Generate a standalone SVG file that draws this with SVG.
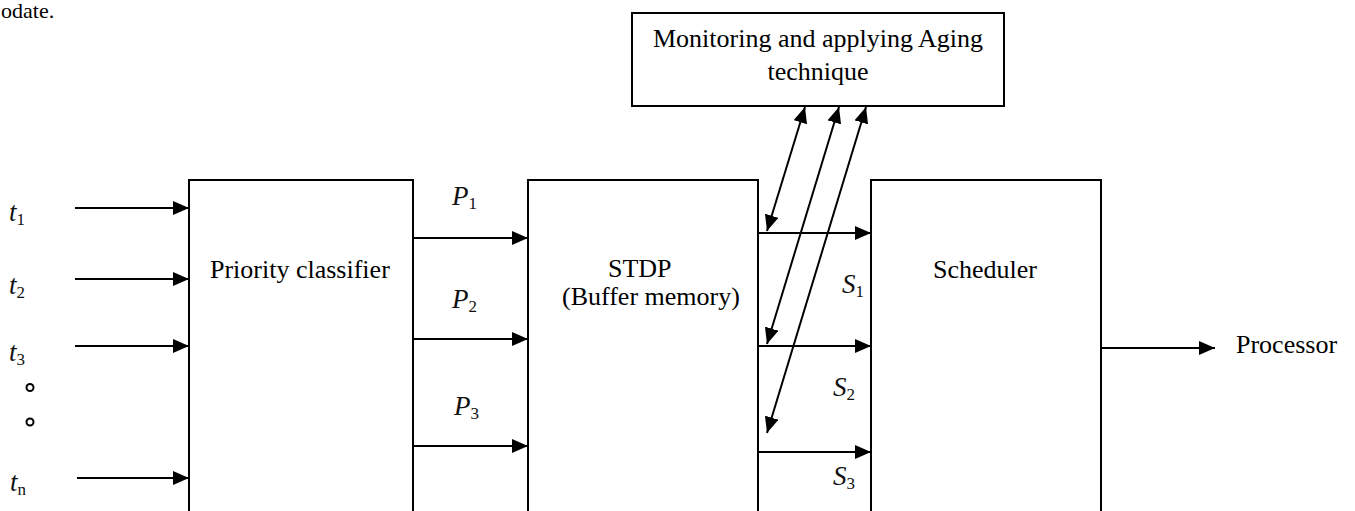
<svg xmlns="http://www.w3.org/2000/svg" width="1355" height="511" viewBox="0 0 1355 511">
<style>
.box{fill:#fff;stroke:#000;stroke-width:2}
.ln{stroke:#000;stroke-width:2;fill:none}
.tx{font-family:"Liberation Serif","Times New Roman",serif;font-size:26px;fill:#000}
.mt{font-family:"Liberation Serif","Times New Roman",serif;font-size:27px;font-style:italic;fill:#111}
.sb{font-size:17px;font-style:normal}
.dot{fill:none;stroke:#000;stroke-width:2}
</style>
<defs>
<marker id="ah" markerUnits="userSpaceOnUse" markerWidth="17" markerHeight="15" refX="16" refY="7" orient="auto-start-reverse">
<path d="M0,0 L16,7 L0,14 z" fill="#000"/>
</marker>
</defs>
<rect width="1355" height="511" fill="#fff"/>
<text class="tx" x="1" y="18" style="font-size:22px">odate.</text>

<g id="monitor">
<rect class="box" x="632" y="13" width="372" height="93"/>
<text class="tx" x="818" y="47" text-anchor="middle">Monitoring and applying Aging</text>
<text class="tx" x="818" y="80" text-anchor="middle">technique</text>
</g>
<g id="classifier">
<rect class="box" x="189" y="180" width="224" height="345"/>
<text class="tx" x="210" y="278">Priority classifier</text>
</g>
<g id="stdp">
<rect class="box" x="528" y="180" width="230" height="345"/>
<text class="tx" x="608" y="277">STDP</text>
<text class="tx" x="562" y="305">(Buffer memory)</text>
</g>
<g id="scheduler">
<rect class="box" x="871" y="180" width="230" height="345"/>
<text class="tx" x="933" y="278">Scheduler</text>
</g>
<g id="processor">
<text class="tx" x="1236" y="353">Processor</text>
</g>
<g id="inputs">
<text class="mt" x="9" y="221">t<tspan class="sb" dy="4">1</tspan></text>
<text class="mt" x="9" y="294">t<tspan class="sb" dy="4">2</tspan></text>
<text class="mt" x="9" y="361">t<tspan class="sb" dy="4">3</tspan></text>
<text class="mt" x="10" y="491">t<tspan class="sb" dy="4">n</tspan></text>
<circle class="dot" cx="30" cy="387.5" r="3.5"/>
<circle class="dot" cx="30" cy="422" r="3.5"/>
</g>
<g id="labels">
<text class="mt" x="452" y="205">P<tspan class="sb" dy="4">1</tspan></text>
<text class="mt" x="452" y="308">P<tspan class="sb" dy="4">2</tspan></text>
<text class="mt" x="454" y="415">P<tspan class="sb" dy="4">3</tspan></text>
<text class="mt" x="842" y="293">S<tspan class="sb" dy="4">1</tspan></text>
<text class="mt" x="833" y="396">S<tspan class="sb" dy="4">2</tspan></text>
<text class="mt" x="833" y="485">S<tspan class="sb" dy="4">3</tspan></text>
</g>
<g id="connectors">
<line class="ln" x1="75" y1="208" x2="189" y2="208" marker-end="url(#ah)"/>
<line class="ln" x1="75" y1="279" x2="189" y2="279" marker-end="url(#ah)"/>
<line class="ln" x1="75" y1="346" x2="189" y2="346" marker-end="url(#ah)"/>
<line class="ln" x1="77" y1="478" x2="189" y2="478" marker-end="url(#ah)"/>
<line class="ln" x1="413" y1="238" x2="528" y2="238" marker-end="url(#ah)"/>
<line class="ln" x1="413" y1="339" x2="528" y2="339" marker-end="url(#ah)"/>
<line class="ln" x1="413" y1="446" x2="528" y2="446" marker-end="url(#ah)"/>
<line class="ln" x1="758" y1="233" x2="871" y2="233" marker-end="url(#ah)"/>
<line class="ln" x1="758" y1="346" x2="871" y2="346" marker-end="url(#ah)"/>
<line class="ln" x1="758" y1="452" x2="871" y2="452" marker-end="url(#ah)"/>
<line class="ln" x1="1101" y1="348" x2="1215" y2="348" marker-end="url(#ah)"/>
<line class="ln" x1="767" y1="231" x2="805" y2="107" marker-start="url(#ah)" marker-end="url(#ah)"/>
<line class="ln" x1="767" y1="344" x2="839" y2="107" marker-start="url(#ah)" marker-end="url(#ah)"/>
<line class="ln" x1="767" y1="433" x2="866" y2="107" marker-start="url(#ah)" marker-end="url(#ah)"/>
</g>
</svg>
